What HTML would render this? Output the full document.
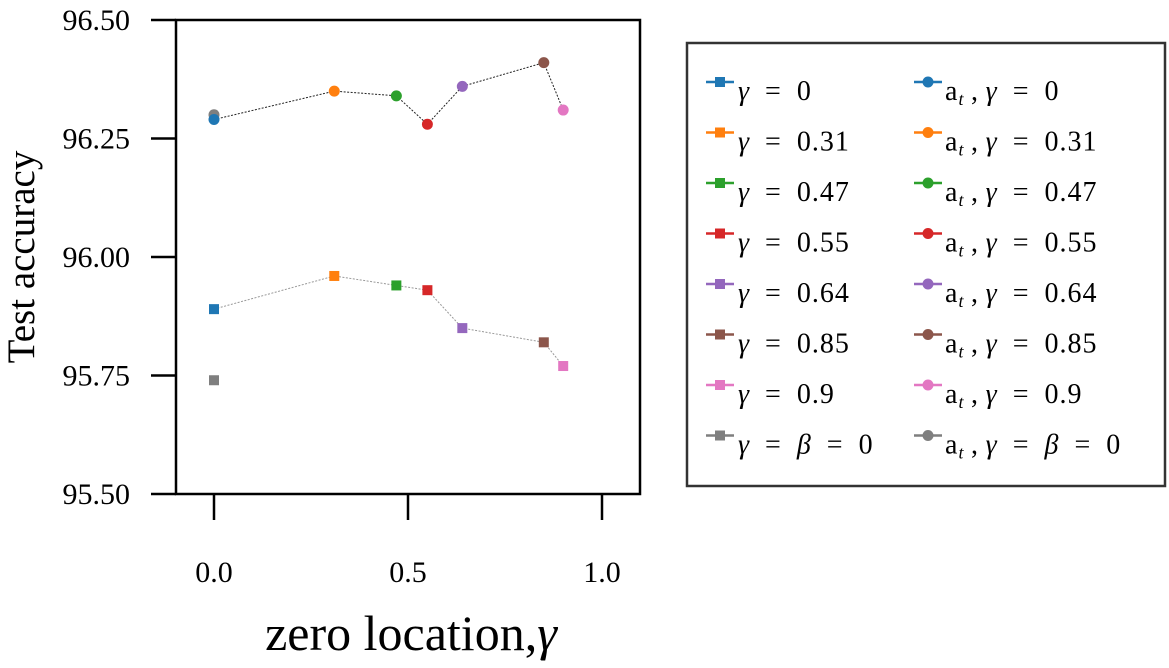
<!DOCTYPE html>
<html><head><meta charset="utf-8"><style>
body{margin:0;background:#fff;}
svg text{font-family:"Liberation Serif",serif;fill:#000;}
</style></head><body>
<svg id="chart" width="1169" height="663" xmlns="http://www.w3.org/2000/svg" font-family="Liberation Serif, serif">
<g id="axes"></g>
<g id="marks"></g>
<g id="legend"></g>
<text transform="translate(34,257) rotate(-90)" text-anchor="middle" style="font-size:39px">Test accuracy</text>
<text x="411" y="650" text-anchor="middle" style="font-size:50px">zero location,<tspan font-style="italic">γ</tspan></text>
</svg>
<script>
const colors=["#1f77b4","#ff7f0e","#2ca02c","#d62728","#9467bd","#8c564b","#e377c2","#7f7f7f"];
const gammas=[0,0.31,0.47,0.55,0.64,0.85,0.9,0];
const labels=["0","0.31","0.47","0.55","0.64","0.85","0.9","β = 0"];
const squareAcc=[95.89,95.96,95.94,95.93,95.85,95.82,95.77,95.74];
const circleAcc=[96.29,96.35,96.34,96.28,96.36,96.41,96.31,96.30];
const yTicks=[95.5,95.75,96.0,96.25,96.5];
const yTickLabels=["95.50","95.75","96.00","96.25","96.50"];
const xTicks=[0,0.5,1.0];
const xTickLabels=["0.0","0.5","1.0"];
const NS="http://www.w3.org/2000/svg";
const L=176,R=640,T=20,B=494;
function sx(v){return 214+(v-0)*388;}
function sy(v){return B-(v-95.5)*(B-T)/1.0;}
function mk(tag,attrs,parent){const e=document.createElementNS(NS,tag);for(const k in attrs)e.setAttribute(k,attrs[k]);parent.appendChild(e);return e;}
const axes=document.getElementById('axes'),marks=document.getElementById('marks'),leg=document.getElementById('legend');
let e=mk('rect',{x:L,y:T,width:R-L,height:B-T,fill:'none',stroke:'#000','stroke-width':2.5},axes);


yTicks.forEach((v,i)=>{
  let t=mk('line',{x1:151,x2:L,y1:sy(v),y2:sy(v),stroke:'#000','stroke-width':2.5},axes);
  
  
  let tx=mk('text',{x:130,y:sy(v)+10,'text-anchor':'end',style:'font-size:30px'},axes);
  tx.textContent=yTickLabels[i];
  
  
});
xTicks.forEach((v,i)=>{
  let t=mk('line',{x1:sx(v),x2:sx(v),y1:B,y2:B+26,stroke:'#000','stroke-width':2.5},axes);
  
  
  let tx=mk('text',{x:sx(v),y:582,'text-anchor':'middle',style:'font-size:30px'},axes);
  tx.textContent=xTickLabels[i];
  
  
});
let sp=[],cp=[];
for(let i=0;i<7;i++){sp.push(sx(gammas[i])+','+sy(squareAcc[i]));cp.push(sx(gammas[i])+','+sy(circleAcc[i]));}
e=mk('polyline',{points:sp.join(' '),fill:'none',stroke:'#999','stroke-width':1,'stroke-dasharray':'2,1.5'},marks);


e=mk('polyline',{points:cp.join(' '),fill:'none',stroke:'#222','stroke-width':1,'stroke-dasharray':'2,1.5'},marks);


for(let i=gammas.length-1;i>=0;i--){
  let s=mk('rect',{x:sx(gammas[i])-5,y:sy(squareAcc[i])-5,width:10,height:10,fill:colors[i]},marks);
  
  
  let c=mk('circle',{cx:sx(gammas[i]),cy:sy(circleAcc[i]),r:5.5,fill:colors[i]},marks);
  
  
}
e=mk('rect',{x:687,y:43,width:478,height:443,fill:'#fff',stroke:'#333','stroke-width':2.5},leg);


function fmt(lb){return '<tspan font-style="italic">γ</tspan>\u2002=\u2002'+lb.replace('β = ','<tspan font-style="italic">β</tspan>\u2002=\u2002');}
labels.forEach((lb,i)=>{
  const y=82+i*50.5;
  let l=mk('line',{x1:706,x2:734,y1:y,y2:y,stroke:colors[i],'stroke-width':2.5},leg);
  
  
  let s=mk('rect',{x:715,y:y-5,width:10,height:10,fill:colors[i]},leg);
  
  
  let t=mk('text',{x:738,y:y+18,style:'font-size:28px;letter-spacing:1px'},leg);
  t.innerHTML=fmt(lb);
  
  
  let l2=mk('line',{x1:914,x2:942,y1:y,y2:y,stroke:colors[i],'stroke-width':2.5},leg);
  
  
  let c=mk('circle',{cx:928,cy:y,r:5.5,fill:colors[i]},leg);
  
  
  let t2=mk('text',{x:945,y:y+18,style:'font-size:28px;letter-spacing:1px'},leg);
  t2.innerHTML='a<tspan style="font-size:18px" font-style="italic" dy="5">t</tspan><tspan dy="-5">\u2009,\u2009</tspan>'+fmt(lb);
  
  
});
</script>
</body></html>
